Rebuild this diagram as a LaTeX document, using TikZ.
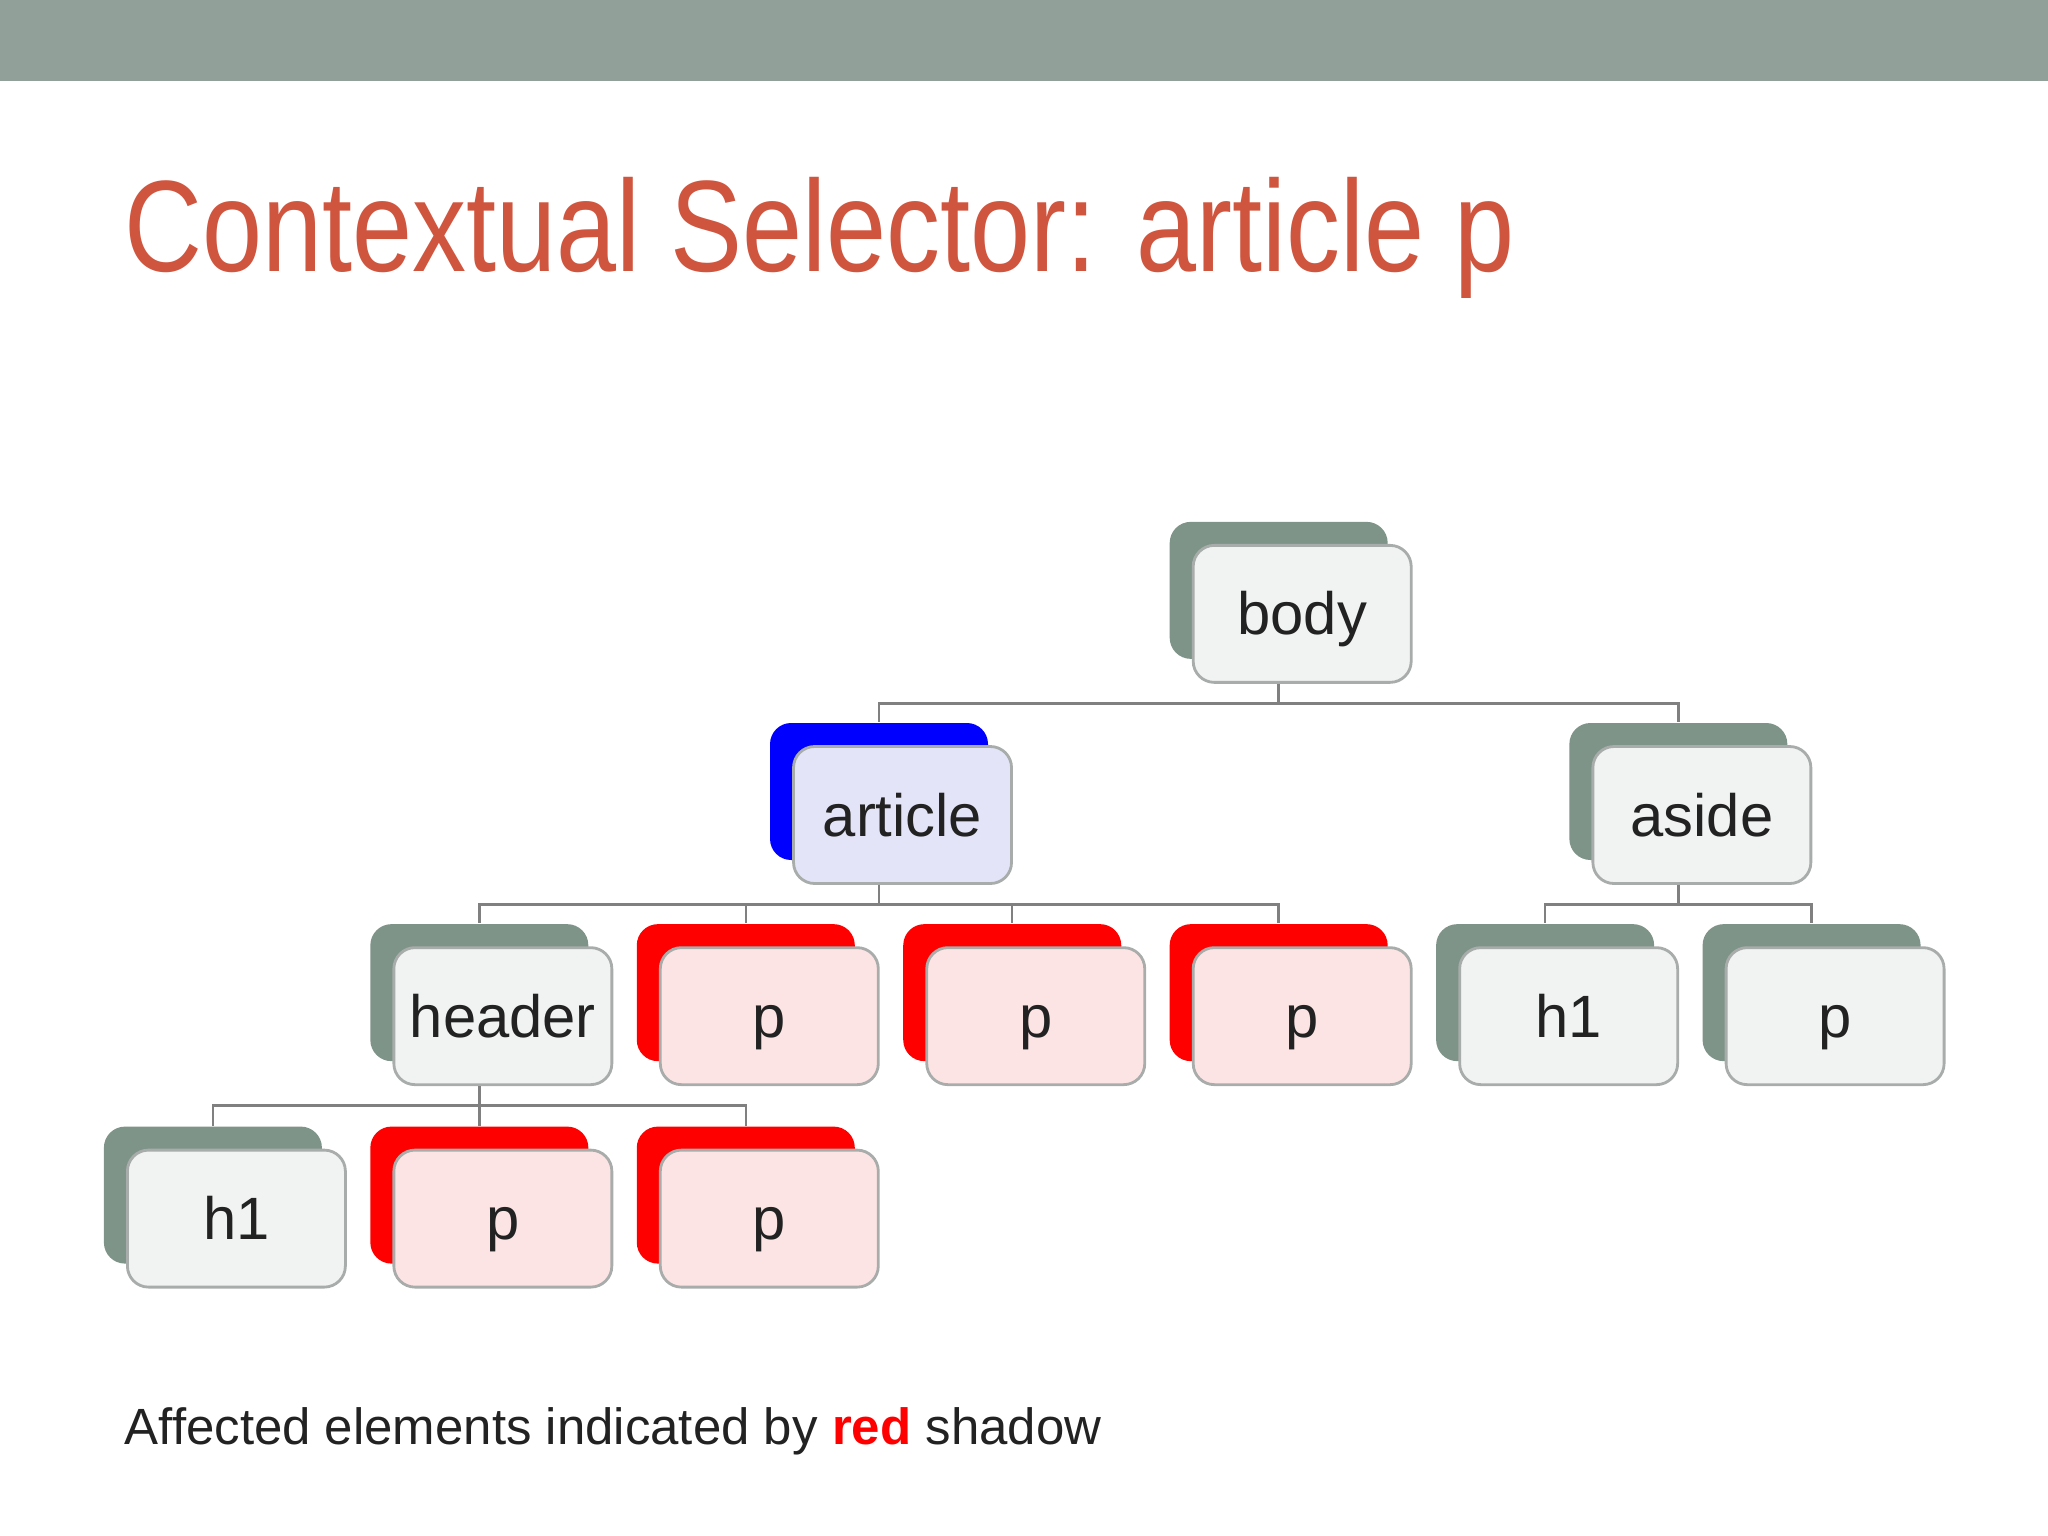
\documentclass[tikz,border=0pt]{standalone}
\usepackage{fontspec}
\setmainfont{Liberation Sans}
\definecolor{barcol}{HTML}{91A199}
\definecolor{titlecol}{HTML}{D0553F}
\definecolor{shadegray}{HTML}{7F9488}
\definecolor{facegray}{HTML}{F1F2F2}
\definecolor{faceblue}{HTML}{E4E4F8}
\definecolor{facered}{HTML}{FDE4E4}
\definecolor{edgegray}{HTML}{A8ACAA}
\definecolor{inkcol}{HTML}{222222}
\tikzset{
  back/.style={rounded corners=6pt,minimum width=2.18cm,minimum height=1.37cm,inner sep=0pt},
  face/.style={back,draw=edgegray,line width=0.8pt,text=inkcol,
    font=\fontsize{17}{20}\selectfont,text height=12pt,text depth=0pt},
  link/.style={draw=gray,line width=0.7pt}
}
% name, back x, back y, shadow colour, face colour, text
\newcommand{\elem}[6]{%
  \node[back,fill=#4] (#1b) at (#2,#3) {};
  \node[face,fill=#5] (#1) at (#2+18,#3+18) {#6};
}
\begin{document}
\begin{tikzpicture}[x=0.01306cm,y=-0.01306cm]
  \useasboundingbox (0,0) rectangle (1568,1176);
  % Header bar and title
  \fill[barcol] (0,0) rectangle (1568,62);
  \node[anchor=base west,text=titlecol,font=\fontsize{37}{44}\selectfont,inner sep=0pt,xscale=0.83] (title) at (95,208) {Contextual Selector: article p};
  % Tree
  \elem{body}{979}{452}{shadegray}{facegray}{body}
  \elem{article}{673}{606}{blue}{faceblue}{article}
  \elem{aside}{1285}{606}{shadegray}{facegray}{aside}
  \elem{header}{367}{760}{shadegray}{facegray}{header}
  \elem{pa}{571}{760}{red}{facered}{p}
  \elem{pb}{775}{760}{red}{facered}{p}
  \elem{pc}{979}{760}{red}{facered}{p}
  \elem{asideh}{1183}{760}{shadegray}{facegray}{h1}
  \elem{asidep}{1387}{760}{shadegray}{facegray}{p}
  \elem{headh}{163}{915}{shadegray}{facegray}{h1}
  \elem{hpa}{367}{915}{red}{facered}{p}
  \elem{hpb}{571}{915}{red}{facered}{p}
  % Connectors
  \foreach \p/\c in {body/article,body/aside,article/header,article/pa,article/pb,article/pc,aside/asideh,aside/asidep,header/headh,header/hpa,header/hpb}
    \draw[link] (\p b |- \p.south) -- ++(0,15) -| (\c b.north);
  % Footer
  \node[anchor=base west,inner sep=0pt,text=inkcol,font=\fontsize{14.5}{18}\selectfont] (note) at (95,1106)
    {Affected elements indicated by \textcolor{red}{\bfseries red} shadow};
\end{tikzpicture}
\end{document}
